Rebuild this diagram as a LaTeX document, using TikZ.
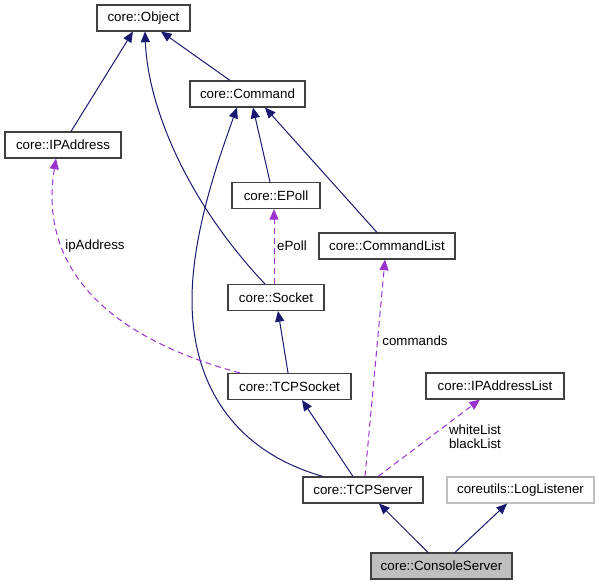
\documentclass[tikz,border=0pt]{standalone}
\usepackage{fontspec}
\setmainfont{Liberation Sans}
\usetikzlibrary{arrows.meta,calc}
\definecolor{navy}{HTML}{191970}
\definecolor{orchid}{HTML}{9A32CD}
\definecolor{boxline}{HTML}{404040}
\definecolor{cur}{HTML}{BFBFBF}
\begin{document}
\begin{tikzpicture}[x=0.75pt,y=-0.75pt,
  cls/.style={draw=boxline,line width=0.8pt,fill=white,minimum height=19.5pt,inner sep=0pt,font=\fontsize{10}{12}\selectfont},
  ext/.style={cls,draw=cur},
  curcls/.style={cls,fill=cur},
  inh/.style={draw=navy,line width=0.75pt,-{Triangle[length=8pt,width=6.8pt]}},
  use/.style={draw=orchid,line width=0.75pt,dash pattern=on 4.5pt off 3pt,-{Triangle[length=8pt,width=6.8pt]}},
  lbl/.style={font=\fontsize{10}{10.5}\selectfont,inner sep=0pt,align=center}]
\useasboundingbox[fill=white] (0,0) rectangle (599,585);
% nodes
\node[cls,minimum width=69.75pt] (obj) at (143.5,18) {core::Object};
\node[cls,minimum width=86.25pt] (cmd) at (247.5,94) {core::Command};
\node[cls,minimum width=87pt] (ipa) at (63,145) {core::IPAddress};
\node[cls,minimum width=66pt] (epoll) at (276,195.5) {core::EPoll};
\node[cls,minimum width=102pt] (cl) at (387,246) {core::CommandList};
\node[cls,minimum width=72pt] (sock) at (276,297.5) {core::Socket};
\node[cls,minimum width=92.25pt] (tcps) at (289.5,386.5) {core::TCPSocket};
\node[cls,minimum width=103.5pt] (ipal) at (495,386) {core::IPAddressList};
\node[cls,minimum width=90pt] (srv) at (363,490) {core::TCPServer};
\node[ext,minimum width=110.25pt] (log) at (520.5,490) {coreutils::LogListener};
\node[curcls,minimum width=105.75pt] (con) at (441.5,566) {core::ConsoleServer};
% inheritance
\draw[inh] ([xshift=6pt]ipa.north) -- ([xshift=-7.9pt]obj.south);
\draw[inh] ([xshift=-8.25pt]sock.north) .. controls (190,205) and (148,110) .. ([xshift=1.1pt]obj.south);
\draw[inh] ([xshift=-13.1pt]cmd.north) -- ([xshift=13.1pt]obj.south);
\draw[inh] ([xshift=-30pt]srv.north) .. controls (230,450) and (192,380) .. (192,300) .. controls (192,230) and (222,150) .. ([xshift=-7.9pt]cmd.south);
\draw[inh] ([xshift=-4.5pt]epoll.north) -- ([xshift=4.1pt]cmd.south);
\draw[inh] ([xshift=-7.5pt]cl.north) -- ([xshift=13.1pt]cmd.south);
\draw[inh] ([xshift=-1.1pt]tcps.north) -- ([xshift=1.5pt]sock.south);
\draw[inh] ([xshift=-7.5pt]srv.north) -- ([xshift=9.4pt]tcps.south);
\draw[inh] ([xshift=-10.1pt]con.north) -- ([xshift=12pt]srv.south);
\draw[inh] ([xshift=10.1pt]con.north) -- ([xshift=-10.1pt]log.south);
% usage
\draw[use] ([xshift=-37.1pt]tcps.north) .. controls (110,338) and (38,270) .. ([xshift=-5.25pt]ipa.south);
\node[lbl] (lip) at (95,246) {ipAddress};
\draw[use] ([xshift=-1.5pt]sock.north) -- ([xshift=-1.5pt]epoll.south);
\node[lbl] (lep) at (292,246) {ePoll};
\draw[use] ([xshift=1.5pt]srv.north) -- ([xshift=-1.5pt]cl.south);
\node[lbl] (lcm) at (415,341) {commands};
\draw[use] ([xshift=11.25pt]srv.north) -- ([xshift=-11.25pt]ipal.south);
\node[lbl] (lwb) at (475,437) {whiteList\\blackList};
\end{tikzpicture}
\end{document}
